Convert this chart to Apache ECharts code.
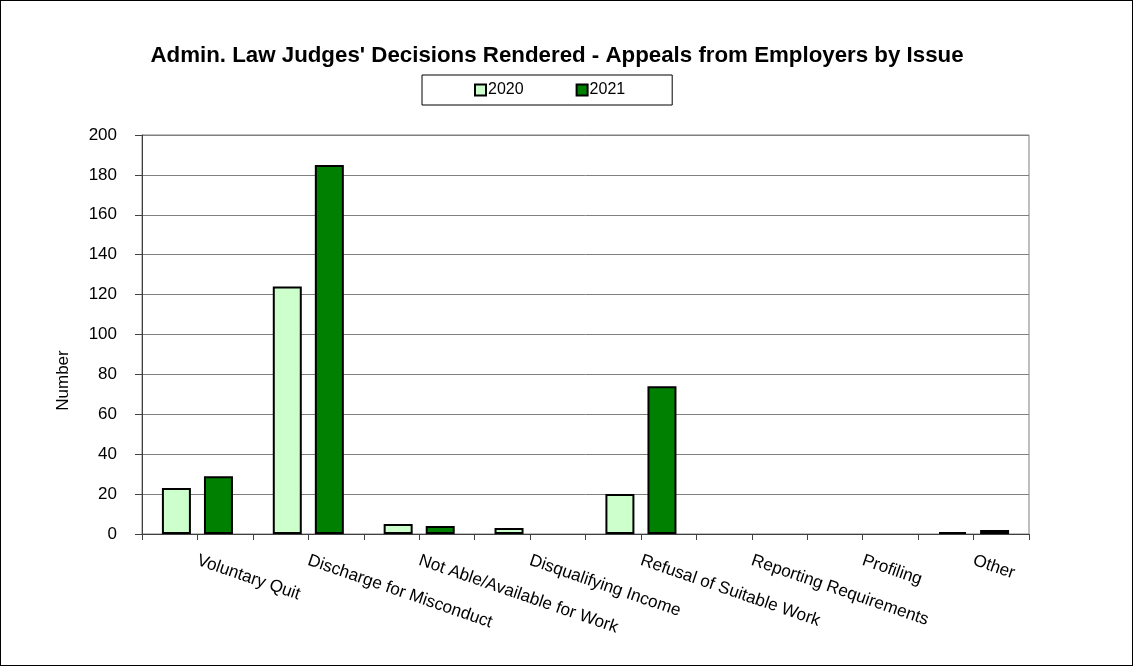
<!DOCTYPE html>
<html>
<head>
<meta charset="utf-8">
<script src="https://cdn.jsdelivr.net/npm/echarts@6/dist/echarts.min.js"></script>
<style>
html,body{margin:0;padding:0;background:#fff;}
#c{position:absolute;left:0;top:0;width:1131px;height:664px;border:1px solid #000;}
</style>
</head>
<body>
<div id="c"></div>
<script>
var categories = ['Voluntary Quit','Discharge for Misconduct','Not Able/Available for Work','Disqualifying Income','Refusal of Suitable Work','Reporting Requirements','Profiling','Other'];
var values2020 = [23, 124, 5, 3, 20, 0, 0, 1];
var values2021 = [29, 185, 4, 0, 74, 0, 0, 2];
var yTicks = [0, 200, 20];

function noZero(arr) { return arr.map(function (v) { return v === 0 ? null : v; }); }

var chart = echarts.init(document.getElementById('c'));
var F = 'Liberation Sans, Arial, sans-serif';
chart.setOption({
  animation: false,
  backgroundColor: '#fff',
  title: {
    text: "Admin. Law Judges' Decisions Rendered - Appeals from Employers by Issue",
    left: 551, top: 39, textAlign: 'center',
    textStyle: {fontFamily: F, fontSize: 22.3, fontWeight: 'bold', color: '#000'}
  },
  legend: {
    left: 421, top: 74,
    borderColor: '#000', borderWidth: 1, borderRadius: 0,
    padding: [7, 47, 7, 52],
    itemWidth: 11, itemHeight: 11, itemGap: 52,
    textStyle: {fontFamily: F, fontSize: 16, color: '#000', padding: [0,0,0,-3]},
    data: [
      {name: '2020', icon: 'rect', itemStyle: {color: '#CCFFCC', borderColor: '#000', borderWidth: 2}},
      {name: '2021', icon: 'rect', itemStyle: {color: '#008000', borderColor: '#000', borderWidth: 2}}
    ]
  },
  grid: {left: 141, right: 103, top: 134, bottom: 131, show: true, borderColor: '#7f7f7f', borderWidth: 1, backgroundColor: 'transparent'},
  xAxis: [{
    type: 'category',
    data: categories,
    axisLine: {lineStyle: {color: '#404040', width: 1}},
    axisTick: {show: false},
    axisLabel: {
      interval: 0, rotate: -19, margin: 26,
      fontFamily: F, fontSize: 17.2, color: '#000'
    }
  }, {
    type: 'value', position: 'bottom',
    min: 0, max: categories.length, interval: 0.5,
    axisLine: {show: false},
    axisLabel: {show: false},
    splitLine: {show: false},
    axisTick: {show: true, length: 6, lineStyle: {color: '#404040'}}
  }],
  yAxis: {
    type: 'value',
    min: yTicks[0], max: yTicks[1], interval: yTicks[2],
    name: 'Number', nameLocation: 'middle', nameGap: 70, nameRotate: 90,
    nameTextStyle: {fontFamily: F, fontSize: 17, color: '#000', padding: [0, 92, 0, 0]},
    axisLine: {show: true, lineStyle: {color: '#404040'}},
    axisTick: {show: true, length: 7, lineStyle: {color: '#404040'}},
    axisLabel: {fontFamily: F, fontSize: 17, color: '#000', margin: 25},
    splitLine: {show: true, lineStyle: {color: '#7f7f7f', width: 1}}
  },
  series: [
    {name: '2020', type: 'bar', xAxisIndex: 0, data: noZero(values2020), barWidth: 29, barGap: '45%',
     itemStyle: {color: '#CCFFCC', borderColor: '#000', borderWidth: 2}},
    {name: '2021', type: 'bar', xAxisIndex: 0, data: noZero(values2021), barWidth: 29,
     itemStyle: {color: '#008000', borderColor: '#000', borderWidth: 2}}
  ]
});
</script>
</body>
</html>
